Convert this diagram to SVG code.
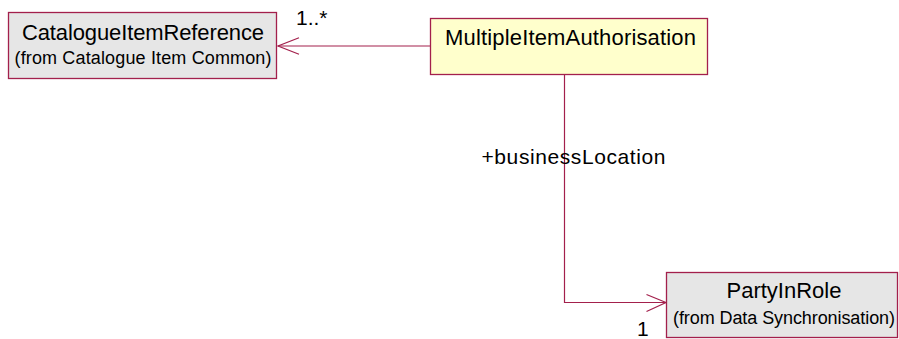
<svg xmlns="http://www.w3.org/2000/svg" width="899" height="339" viewBox="0 0 899 339">
<style>
.box{stroke:#a3204c;stroke-width:1.3}
.cls{fill:#e6e6e6}
.act{fill:#ffffcc}
.name{font-family:"Liberation Sans",Arial,sans-serif;font-size:22px;fill:#000;text-anchor:middle}
.from{font-family:"Liberation Sans",Arial,sans-serif;font-size:18px;fill:#000;text-anchor:middle}
.lbl{font-family:"Liberation Sans",Arial,sans-serif;font-size:21px;fill:#000}
.edge{fill:none;stroke:#a3204c;stroke-width:1.2}
</style>
<rect width="899" height="339" fill="#ffffff"/>
<g id="connectors">
  <path class="edge" d="M430,46 H278"/>
  <polyline class="edge" points="299,37.7 278,46 299,54.3"/>
  <path class="edge" d="M564.5,75 V302.5 H666"/>
  <polyline class="edge" points="646.5,294.5 666,302.5 646.5,311.5"/>
  <text class="lbl" x="296" y="25">1..*</text>
  <text class="lbl" x="481.5" y="163.5" font-size="22" textLength="184" lengthAdjust="spacing">+businessLocation</text>
  <text class="lbl" x="637" y="336">1</text>
</g>
<g id="CatalogueItemReference">
  <rect class="box cls" x="8.5" y="12.5" width="268" height="66"/>
  <text class="name" x="143" y="40" textLength="242" lengthAdjust="spacing">CatalogueItemReference</text>
  <text class="from" x="143" y="63.5" textLength="257" lengthAdjust="spacing">(from Catalogue Item Common)</text>
</g>
<g id="MultipleItemAuthorisation">
  <rect class="box act" x="430.5" y="18.5" width="277" height="56"/>
  <text class="name" x="570.5" y="45" textLength="251" lengthAdjust="spacing">MultipleItemAuthorisation</text>
</g>
<g id="PartyInRole">
  <rect class="box cls" x="666.5" y="272.5" width="231" height="65"/>
  <text class="name" x="784" y="298">PartyInRole</text>
  <text class="from" x="784" y="324" textLength="222" lengthAdjust="spacing">(from Data Synchronisation)</text>
</g>
</svg>
